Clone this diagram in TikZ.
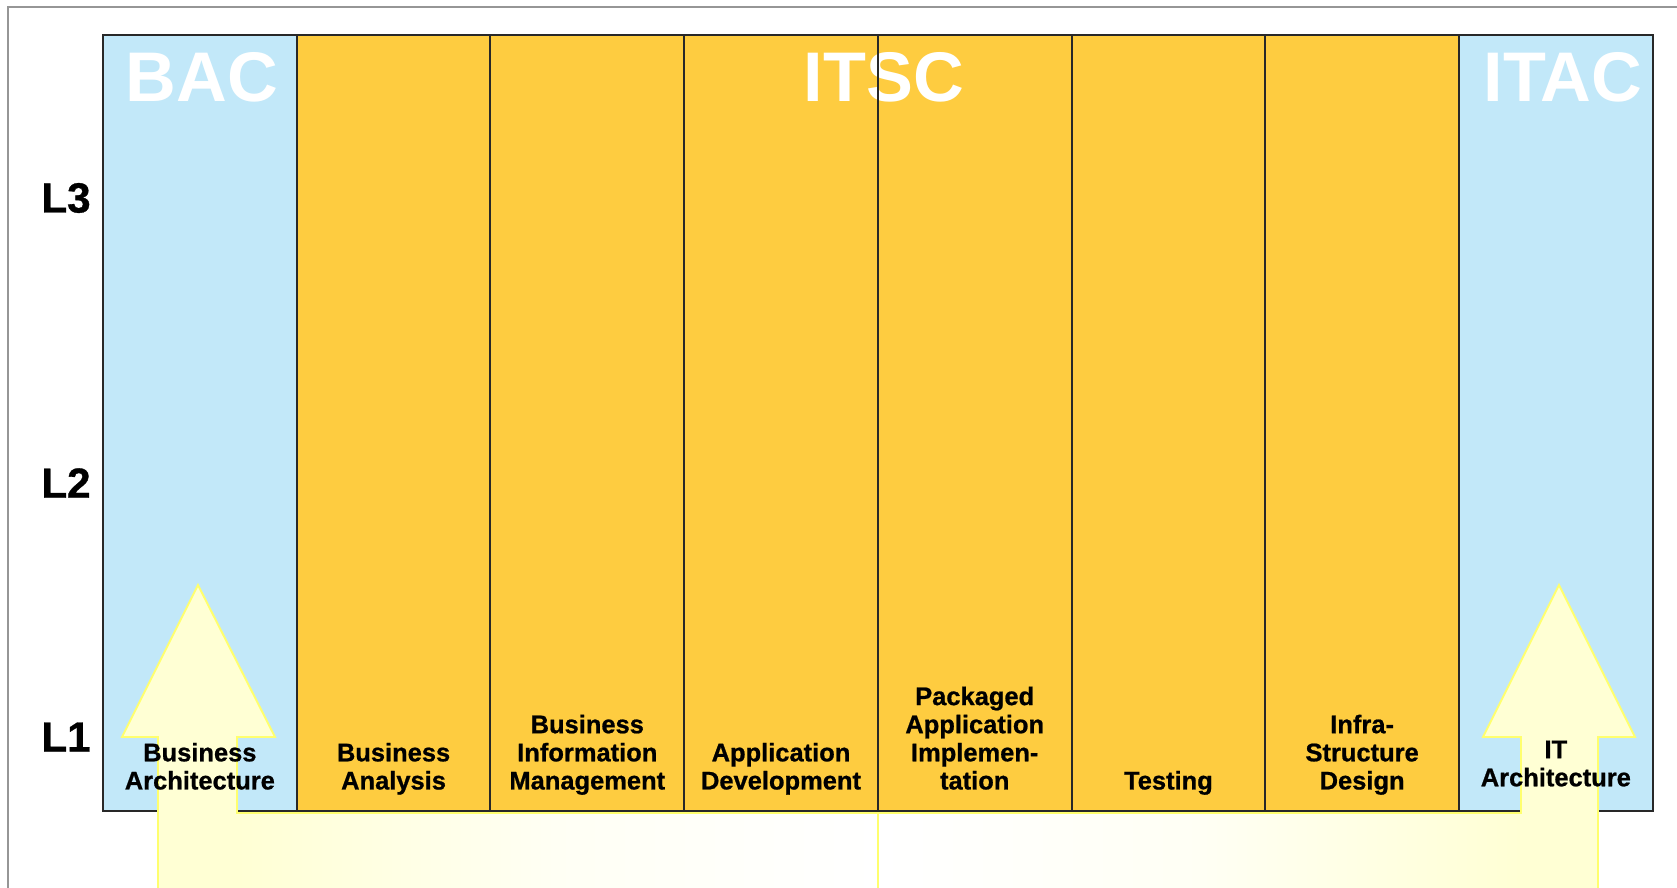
\documentclass[tikz,border=0pt]{standalone}
\usepackage{fontspec}
\setmainfont{Liberation Sans}
\newfontfamily\heavyfont[FakeBold=0.8]{Liberation Sans Bold}
\usetikzlibrary{positioning}

\definecolor{bacblue}{RGB}{194,232,249}
\definecolor{itscorange}{RGB}{254,204,64}
\definecolor{arrowfill}{RGB}{255,255,212}
\definecolor{arrowedge}{RGB}{255,255,110}
\definecolor{framegray}{RGB}{150,150,150}
\definecolor{gridline}{RGB}{40,40,40}

\begin{document}
\begin{tikzpicture}[x=0.02cm, y=-0.02cm,
    col/.style={rectangle, minimum width=3.875cm, minimum height=15.52cm, inner sep=0, outer sep=0},
    grid/.style={draw=gridline, line width=1.1pt},
    title/.style={text=white, inner sep=0, font=\bfseries\fontsize{40}{40}\selectfont},
    level/.style={inner sep=0, font=\heavyfont\fontsize{24}{24}\selectfont},
    colname/.style={align=center, inner sep=0, font=\heavyfont\fontsize{14.5}{16}\selectfont, execute at end node=\strut},
    arrowrim/.style={draw=arrowedge, line width=1.1pt}]

\useasboundingbox (0,0) rectangle (1677,887);
\draw[framegray, line width=0.6pt] (8,895) -- (8,7) -- (1685,7);

% columns
\node[col, fill=bacblue, anchor=north west] (bac) at (103,35) {};
\node[col, fill=itscorange, right=0pt of bac] (ba) {};
\node[col, fill=itscorange, right=0pt of ba] (bim) {};
\node[col, fill=itscorange, right=0pt of bim] (ad) {};
\node[col, fill=itscorange, right=0pt of ad] (pai) {};
\node[col, fill=itscorange, right=0pt of pai] (test) {};
\node[col, fill=itscorange, right=0pt of test] (isd) {};
\node[col, fill=bacblue, right=0pt of isd] (itac) {};

\node[title] (bactitle) at (202,77) {BAC};
\node[title] (itsctitle) at (884,77) {ITSC};
\node[title] (itactitle) at (1563,77) {ITAC};

\foreach \c in {bac,ba,bim,ad,pai,test,isd,itac}
  \draw[grid] (\c.north west) rectangle (\c.south east);

\node[level] (l3) at (66,198) {L3};
\node[level] (l2) at (66,483) {L2};
\node[level] (l1) at (66,737) {L1};

% arrows
\fill[arrowfill] (198,585) -- (275,737) -- (237,737) -- (237,813) -- (878,813) -- (878,895) -- (158,895) -- (158,737) -- (122,737) -- cycle;
\fill[arrowfill] (1559,585) -- (1635,737) -- (1598,737) -- (1598,895) -- (878,895) -- (878,813) -- (1521,813) -- (1521,737) -- (1483,737) -- cycle;
\shade[left color=arrowfill, right color=white, middle color=arrowfill!25!white] (237,813) rectangle (878,895);
\shade[left color=white, right color=arrowfill, middle color=arrowfill!25!white] (878,813) rectangle (1521,895);
\draw[arrowrim] (198,585) -- (275,737) -- (237,737) -- (237,813) -- (878,813) -- (878,895) -- (158,895) -- (158,737) -- (122,737) -- cycle;
\draw[arrowrim] (1559,585) -- (1635,737) -- (1598,737) -- (1598,895) -- (878,895) -- (878,813) -- (1521,813) -- (1521,737) -- (1483,737) -- cycle;

\node[colname, above=7.2pt of bac.south] (bacname) {Business\\Architecture};
\node[colname, above=7.2pt of ba.south] (baname) {Business\\Analysis};
\node[colname, above=7.2pt of bim.south] (bimname) {Business\\Information\\Management};
\node[colname, above=7.2pt of ad.south] (adname) {Application\\Development};
\node[colname, above=7.2pt of pai.south] (painame) {Packaged\\Application\\Implemen-\\tation};
\node[colname, above=7.2pt of test.south] (testname) {Testing};
\node[colname, above=7.2pt of isd.south] (isdname) {Infra-\\Structure\\Design};
\node[colname, above=9pt of itac.south] (itacname) {IT\\Architecture};
\end{tikzpicture}
\end{document}
